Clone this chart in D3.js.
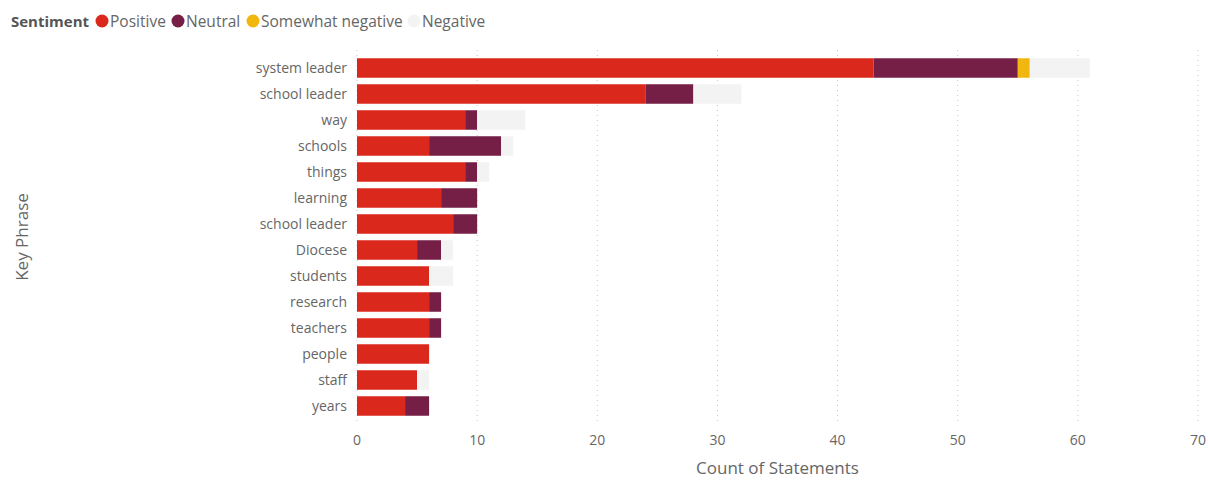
<!DOCTYPE html>
<html>
<head>
<meta charset="utf-8">
<script src="https://cdn.jsdelivr.net/npm/d3@7"></script>
<style>
  body { margin: 0; background: #fff; font-family: "Open Sans", "Noto Sans", sans-serif; }
</style>
</head>
<body>
<script>
var phrases = ["system leader", "school leader", "way", "schools", "things", "learning", "school leader",
    "Diocese", "students", "research", "teachers", "people", "staff", "years"];
var positive = [43, 24, 9, 6, 9, 7, 8, 5, 6, 6, 6, 6, 5, 4];
var neutral  = [12, 4, 1, 6, 1, 3, 2, 2, 0, 1, 1, 0, 0, 2];
var somewhatNegative = [1, 0, 0, 0, 0, 0, 0, 0, 0, 0, 0, 0, 0, 0];
var negative = [5, 4, 4, 1, 1, 0, 0, 1, 2, 0, 0, 0, 1, 0];
var sentiments = ["Positive", "Neutral", "Somewhat negative", "Negative"];
var xTicks = [0, 10, 20, 30, 40, 50, 60, 70];

var width = 1208, height = 480;
var margin = {top: 55, right: 10, bottom: 61, left: 357};

var color = d3.scaleOrdinal()
    .domain(sentiments)
    .range(["#DA291C", "#751F47", "#F2B70F", "#F3F3F3"]);

var rows = phrases.map(function(p, i) {
  return {key: i, phrase: p, "Positive": positive[i], "Neutral": neutral[i],
    "Somewhat negative": somewhatNegative[i], "Negative": negative[i]};
});

var stack = d3.stack().keys(sentiments)(rows);

var svg = d3.select("body").append("svg")
    .attr("width", width)
    .attr("height", height);

var x = d3.scaleLinear().domain([0, 70]).range([margin.left, 1198]);
var y = d3.scaleBand()
    .domain(rows.map(function(d) { return d.key; }))
    .range([margin.top, margin.top + 26 * rows.length])
    .paddingInner(0.25)
    .paddingOuter(0.125);

// gridlines
svg.append("g")
  .selectAll("line")
  .data(xTicks)
  .enter().append("line")
    .attr("x1", function(d) { return x(d); })
    .attr("x2", function(d) { return x(d); })
    .attr("y1", 50)
    .attr("y2", 425)
    .style("stroke", "#c8c8c8")
    .style("stroke-width", 1)
    .style("stroke-dasharray", "1,4");

// bars
svg.append("g")
  .selectAll("g")
  .data(stack)
  .enter().append("g")
    .style("fill", function(d) { return color(d.key); })
  .selectAll("rect")
  .data(function(d) { return d; })
  .enter().append("rect")
    .attr("x", function(d) { return x(d[0]); })
    .attr("y", function(d) { return y(d.data.key); })
    .attr("width", function(d) { return x(d[1]) - x(d[0]); })
    .attr("height", y.bandwidth());

// y labels
svg.append("g")
  .selectAll("text")
  .data(rows)
  .enter().append("text")
    .attr("x", 347)
    .attr("y", function(d) { return y(d.key) + y.bandwidth() / 2; })
    .attr("dy", "0.35em")
    .attr("text-anchor", "end")
    .style("font-size", "14px")
    .style("fill", "#666")
    .text(function(d) { return d.phrase; });

// x tick labels
svg.append("g")
  .selectAll("text")
  .data(xTicks)
  .enter().append("text")
    .attr("x", function(d) { return x(d); })
    .attr("y", 445)
    .attr("text-anchor", "middle")
    .style("font-size", "14px")
    .style("fill", "#666")
    .text(function(d) { return d; });

svg.append("text")
    .attr("x", (x.range()[0] + x.range()[1]) / 2)
    .attr("y", 474)
    .attr("text-anchor", "middle")
    .style("font-size", "17px")
    .style("fill", "#666")
    .text("Count of Statements");

svg.append("text")
    .attr("transform", "translate(28,237) rotate(-90)")
    .attr("text-anchor", "middle")
    .style("font-size", "17px")
    .style("fill", "#666")
    .text("Key Phrase");

// legend
var legend = svg.append("g").attr("class", "legend");
legend.append("text")
    .attr("x", 11)
    .attr("y", 27)
    .style("font-size", "15px")
    .style("font-weight", "bold")
    .style("fill", "#555")
    .text("Sentiment");

var lx = [102, 178, 253, 414];
legend.selectAll("g.item")
  .data(sentiments)
  .enter().append("g")
    .attr("class", "item")
    .attr("transform", function(d, i) { return "translate(" + lx[i] + ",21)"; })
  .each(function(d) {
    var g = d3.select(this);
    g.append("circle").attr("r", 6.5).style("fill", color(d));
    g.append("text")
      .attr("x", 8)
      .attr("y", 6)
      .style("font-size", "15.5px")
      .style("fill", "#666")
      .text(d);
  });
</script>
</body>
</html>
